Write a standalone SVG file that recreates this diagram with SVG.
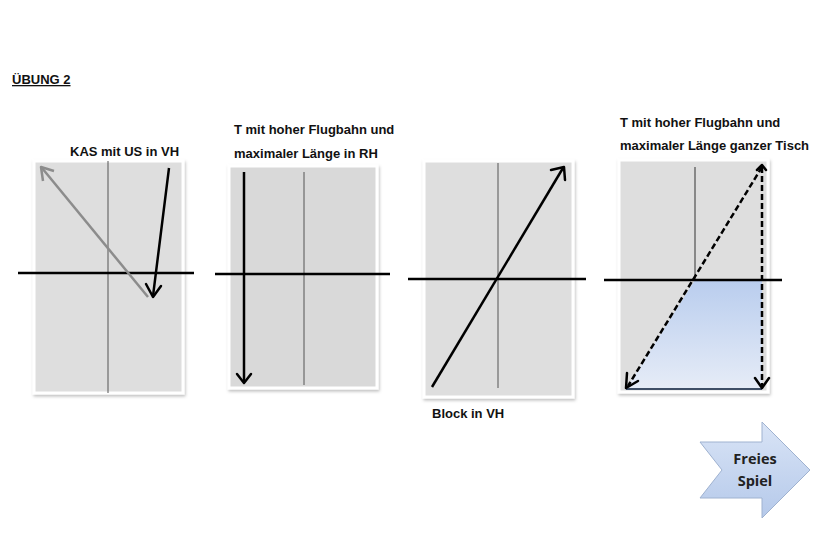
<svg xmlns="http://www.w3.org/2000/svg" width="820" height="550" viewBox="0 0 820 550">
<style>
.lbl{font-family:"Liberation Sans",Arial,sans-serif;font-weight:bold;font-size:13px;fill:#111}
.panel{fill:#dedede;stroke:#fff;stroke-width:3}
.axis{stroke:#000;stroke-width:2.5}
.mid{stroke:#555;stroke-width:1}
.arr{stroke:#000;stroke-width:2.5;fill:none}
.head{stroke:#000;stroke-width:2.5;fill:none;stroke-linecap:round;stroke-linejoin:round}
</style>
<defs>
<filter id="sh" x="-10%" y="-10%" width="120%" height="120%">
<feDropShadow dx="1" dy="2" stdDeviation="1.5" flood-color="#000" flood-opacity="0.25"/>
</filter>
<linearGradient id="trap" x1="0" y1="0" x2="0" y2="1">
<stop offset="0" stop-color="#b9cdee"/>
<stop offset="1" stop-color="#e6ecf7"/>
</linearGradient>
<linearGradient id="blk" x1="0" y1="0" x2="0" y2="1">
<stop offset="0" stop-color="#d9e4f6"/>
<stop offset="1" stop-color="#b5c9ea"/>
</linearGradient>
</defs>
<rect width="820" height="550" fill="#fff"/>
<g id="title">
<text x="12" y="84" class="lbl" font-size="12.5" text-decoration="underline">ÜBUNG 2</text>
</g>
<g id="panel1">
<rect x="34" y="161" width="149" height="232" class="panel" filter="url(#sh)"/>
<line x1="108" y1="161" x2="108" y2="393" class="mid"/>
<line x1="18" y1="273" x2="194" y2="273" class="axis"/>
<line x1="148" y1="297" x2="42" y2="168" stroke="#8c8c8c" stroke-width="2.5"/>
<polyline points="43,181 41,167 54,171" fill="none" stroke="#8c8c8c" stroke-width="2.5" stroke-linejoin="round"/>
<line x1="169" y1="168" x2="153" y2="296" class="arr"/>
<polyline points="146,284 153,297 161,286" class="head"/>
<text x="70" y="156" class="lbl">KAS mit US in VH</text>
</g>
<g id="panel2">
<rect x="229" y="166" width="148" height="222" class="panel" filter="url(#sh)" style="fill:#d9d9d9"/>
<line x1="304" y1="172" x2="304" y2="385" class="mid"/>
<line x1="215" y1="274" x2="390" y2="274" class="axis"/>
<line x1="244" y1="172" x2="244" y2="381" class="arr"/>
<polyline points="237,374 244,383 251,374" class="head"/>
<text x="234" y="134" class="lbl">T mit hoher Flugbahn und</text>
<text x="234" y="158" class="lbl">maximaler Länge in RH</text>
</g>
<g id="panel3">
<rect x="424" y="161" width="149" height="236" class="panel" filter="url(#sh)"/>
<line x1="498" y1="163" x2="498" y2="388" class="mid"/>
<line x1="408" y1="279" x2="586" y2="279" class="axis"/>
<line x1="432" y1="387" x2="563" y2="168" class="arr"/>
<polyline points="551,170 564,167 565,180" class="head"/>
<text x="432" y="418" class="lbl">Block in VH</text>
</g>
<g id="panel4">
<rect x="619" y="160" width="149" height="232" class="panel" filter="url(#sh)"/>
<line x1="695" y1="167" x2="695" y2="280" stroke="#333" stroke-width="1"/>
<polygon points="695,280 762,280 762,389 626,389" fill="url(#trap)"/>
<line x1="626" y1="389" x2="762" y2="389" stroke="#3e4e66" stroke-width="2"/>
<line x1="604" y1="280" x2="782" y2="280" class="axis"/>
<line x1="762" y1="167" x2="628" y2="386" class="arr" stroke-dasharray="6,3"/>
<polyline points="627,373 626,388 638,381" class="head"/>
<line x1="762" y1="167" x2="762" y2="386" class="arr" stroke-dasharray="6,3"/>
<polyline points="755,378 762,388 769,378" class="head"/>
<polyline points="757,170 762,165 766,170" class="head" stroke-width="2"/>
<text x="620" y="127" class="lbl">T mit hoher Flugbahn und</text>
<text x="620" y="150" class="lbl">maximaler Länge ganzer Tisch</text>
</g>
<g id="freies-spiel">
<polygon points="700,442 762,442 762,422 810,470 762,518 762,498 700,498 722,470" fill="url(#blk)" stroke="#9fb2d0" stroke-width="1"/>
<text x="755" y="464" text-anchor="middle" font-family="'Open Sans','Noto Sans',sans-serif" font-weight="bold" font-size="14.5" fill="#222">Freies</text>
<text x="755" y="486" text-anchor="middle" font-family="'Open Sans','Noto Sans',sans-serif" font-weight="bold" font-size="14.5" fill="#222">Spiel</text>
</g>
</svg>
